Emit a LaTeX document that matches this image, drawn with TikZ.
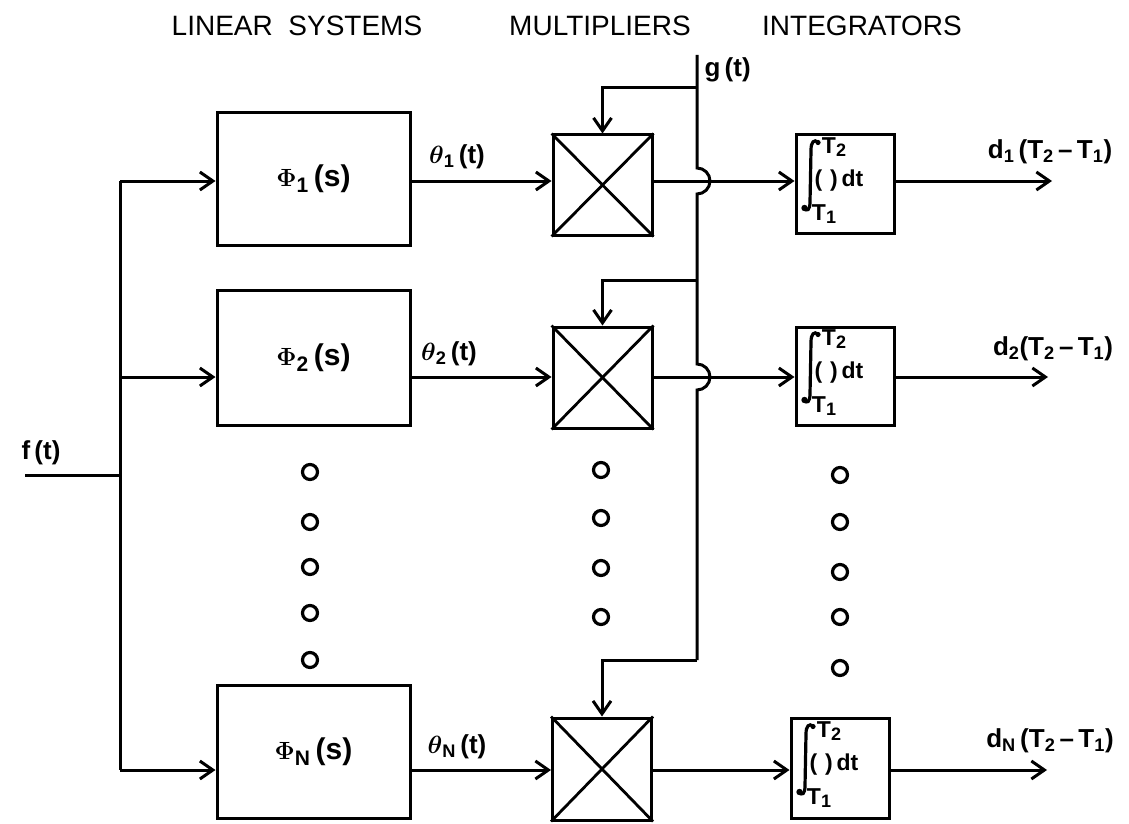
\documentclass[tikz,border=0pt]{standalone}
\usepackage{amsmath}
\usepackage{graphicx}
\usepackage{fontspec}
\setmainfont{Liberation Sans}
\usetikzlibrary{arrows.meta}
\newcommand{\lowsub}[1]{\raisebox{-3pt}{\fontsize{18}{18}\selectfont #1}}
\begin{document}
\begin{tikzpicture}[x=1pt,y=-1pt,
  line width=3pt,
  >={Straight Barb[length=13pt,width=18pt]},
  linbox/.style={draw,line width=3pt,minimum width=193pt,minimum height=132pt,inner sep=0pt,font=\fontsize{30}{32}\selectfont\bfseries},
  multbox/.style={draw,line width=3pt,minimum width=99pt,minimum height=100pt,inner sep=0pt},
  intbox/.style={draw,line width=3pt,minimum width=98pt,minimum height=98pt,inner sep=0pt},
  intpart/.style={inner sep=0pt,font=\fontsize{23}{24}\selectfont\bfseries},
  intsign/.style={line width=3.2pt,line cap=round},
  lab/.style={font=\fontsize{26}{28}\selectfont\bfseries,inner sep=0pt},
  title/.style={font=\fontsize{28}{30}\selectfont,inner sep=0pt},
  ringdot/.style={circle,draw,line width=3.2pt,minimum size=15pt,inner sep=0pt},
  cross/.style={line width=2.8pt},
]
\useasboundingbox (0,0) rectangle (1129,824);

% titles
\node[title] (t1) at (297,26) {LINEAR\ \ SYSTEMS};
\node[title] (t2) at (600,26) {MULTIPLIERS};
\node[title] (t3) at (862,26) {INTEGRATORS};

% linear systems
\node[linbox] (p1) at (313.5,179) {$\boldsymbol{\Phi}_{\text{1}}$\,(s)};
\node[linbox,minimum height=135pt] (p2) at (313.5,357.5) {$\boldsymbol{\Phi}_{\text{2}}$\,(s)};
\node[linbox,minimum height=133pt] (pN) at (313.5,751.5) {$\boldsymbol{\Phi}_{\text{N}}$\,(s)};

% multipliers
\node[multbox] (m1) at (602.5,185) {};
\node[multbox,minimum height=101pt] (m2) at (602.5,377.5) {};
\node[multbox,minimum height=102pt] (mN) at (602,769) {};
\foreach \m in {m1,m2,mN}{
  \draw[cross] (\m.north west) -- (\m.south east) (\m.north east) -- (\m.south west);
}

% integrators
\node[intbox] (i1) at (845,184) {};
\node[intbox] (i2) at (845,376) {};
\node[intbox,minimum height=100pt] (iN) at (840,768) {};
\foreach \i in {i1,i2,iN}{
  \begin{scope}[shift={(\i.center)}]
    \draw[intsign] (-27,-42) .. controls (-31,-45) and (-34,-42) .. (-34,-34)
      -- (-35,18) .. controls (-35,26) and (-38,28) .. (-41,24);
    \fill (-27,-41.5) circle[radius=2.6pt];
    \fill (-40.5,24) circle[radius=3.2pt];
  \end{scope}
  \node[intpart] (\i-hi) at ([xshift=-11pt,yshift=37pt]\i.center) {T\lowsub{2}};
  \node[intpart] (\i-lo) at ([xshift=-21pt,yshift=-30pt]\i.center) {T\lowsub{1}};
  \node[intpart] (\i-arg) at ([xshift=-6pt,yshift=3pt]\i.center) {(\,\,)\,dt};
}

% input bus
\coordinate (fin) at (25,475);
\coordinate (bj) at (120,475);
\coordinate (b1) at (120,181);
\coordinate (b2) at (120,377);
\coordinate (bN) at (120,770);
\node[lab,anchor=west] (flab) at (20,453) {f\,(t)};
\draw (fin) -- (bj);
\draw (b1) -- (bN);
\draw[->] (b1) -- (p1.west |- b1);
\draw[->] (b2) -- (p2.west |- b2);
\draw[->] (bN) -- (pN.west |- bN);

% linear -> multiplier
\draw[->] (p1.east |- b1) -- (m1.west |- b1);
\draw[->] (p2.east |- b2) -- (m2.west |- b2);
\draw[->] (pN.east |- bN) -- (mN.west |- bN);
\node[lab] (th1) at (457,157) {$\boldsymbol{\theta}_{\text{1}}$\,(t)};
\node[lab] (th2) at (449,354) {$\boldsymbol{\theta}_{\text{2}}$\,(t)};
\node[lab] (thN) at (457,747) {$\boldsymbol{\theta}_{\text{N}}$\,(t)};

% g(t) line with hops
\coordinate (gtop) at (697,55);
\coordinate (g1) at (697,88);
\coordinate (g2) at (697,280);
\coordinate (gN) at (697,660);
\node[lab,anchor=west] (glab) at (703,70) {g\,(t)};
\draw (gtop) -- (697,168) arc[start angle=90,end angle=-90,radius=13pt]
      -- (697,364) arc[start angle=90,end angle=-90,radius=13pt] -- (gN);
\draw[->] (g1) -| (m1.north);
\draw[->] (g2) -| (m2.north);
\draw[->] (gN) -| (mN.north);

% multiplier -> integrator
\draw[->] (m1.east |- b1) -- (i1.west |- b1);
\draw[->] (m2.east |- b2) -- (i2.west |- b2);
\draw[->] (mN.east |- bN) -- (iN.west |- bN);

% outputs
\coordinate (o1) at (1052,181);
\coordinate (o2) at (1048,377);
\coordinate (oN) at (1047,770);
\draw[->] (i1.east |- b1) -- (o1);
\draw[->] (i2.east |- b2) -- (o2);
\draw[->] (iN.east |- bN) -- (oN);
\node[lab] (d1) at (1050,152) {d$_{\text{1}}$\,(T$_{\text{2}}$\,--\,T$_{\text{1}}$)};
\node[lab] (d2) at (1053,349) {d$_{\text{2}}$(T$_{\text{2}}$\,--\,T$_{\text{1}}$)};
\node[lab] (dN) at (1050,741) {d$_{\text{N}}$\,(T$_{\text{2}}$\,--\,T$_{\text{1}}$)};

% dots
\foreach \y [count=\k] in {472,522,567,613,660}{
  \node[ringdot] (da\k) at (310,\y) {};
}
\foreach \y [count=\k] in {470,518,568,617}{
  \node[ringdot] (db\k) at (601,\y) {};
}
\foreach \y [count=\k] in {475,522,572,617,668}{
  \node[ringdot] (dc\k) at (840,\y) {};
}
\end{tikzpicture}
\end{document}
